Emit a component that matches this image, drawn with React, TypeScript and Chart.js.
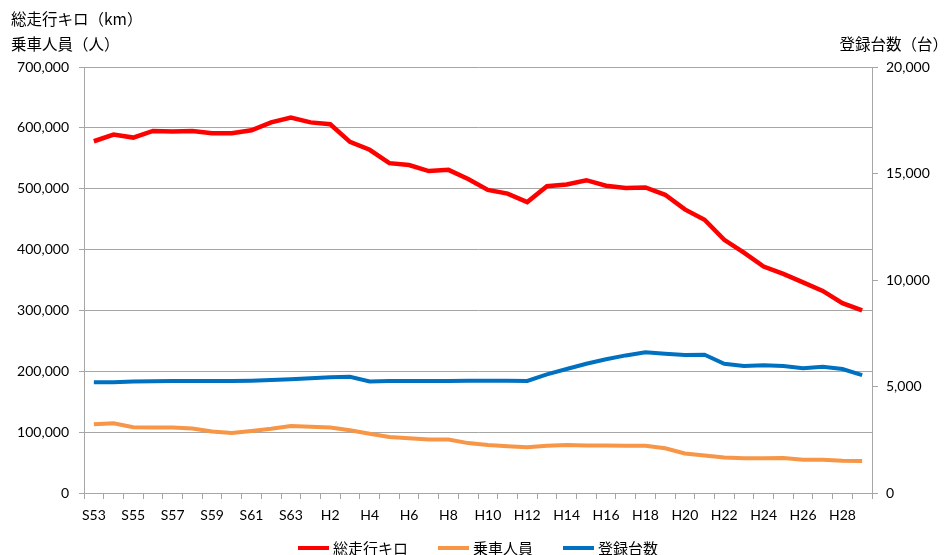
import React, { useEffect, useRef } from "react";
import { Chart, registerables } from "chart.js";

Chart.register(...registerables);

const categories: string[] = [
  "S53", "S54", "S55", "S56", "S57", "S58", "S59", "S60", "S61", "S62", "S63",
  "H1", "H2", "H3", "H4", "H5", "H6", "H7", "H8", "H9", "H10",
  "H11", "H12", "H13", "H14", "H15", "H16", "H17", "H18", "H19", "H20",
  "H21", "H22", "H23", "H24", "H25", "H26", "H27", "H28", "H29",
];

const totalKm: number[] = [
  578000, 589000, 584000, 595000, 594000, 595000, 591000, 591000, 596000, 609000,
  617000, 609000, 606000, 577000, 564000, 542000, 539000, 529000, 531000, 516000,
  498000, 492000, 478000, 504000, 507000, 514000, 505000, 501000, 502000, 490000,
  466000, 449000, 416000, 395000, 372000, 360000, 346000, 332000, 312000, 300000,
];

const passengers: number[] = [
  113000, 114500, 108000, 107500, 107500, 106000, 101000, 98500, 102000, 105500,
  110000, 109000, 107500, 103000, 97500, 92000, 90000, 88000, 88000, 82000,
  79000, 77000, 75000, 77500, 79000, 78000, 78000, 77500, 77500, 73500,
  65000, 61500, 58500, 57000, 57000, 57500, 54500, 54500, 53000, 52500,
];

const registered: number[] = [
  5200, 5200, 5230, 5250, 5260, 5260, 5260, 5260, 5270, 5300,
  5340, 5390, 5430, 5460, 5240, 5260, 5260, 5260, 5260, 5270,
  5270, 5270, 5260, 5570, 5820, 6070, 6280, 6460, 6610, 6540,
  6480, 6490, 6070, 5960, 6000, 5960, 5860, 5930, 5820, 5530,
];

const seriesNames: string[] = ["総走行キロ", "乗車人員", "登録台数"];
const seriesColors: string[] = ["#ff0000", "#f79646", "#0070c0"];
const leftTitles: string[] = ["総走行キロ（km）", "乗車人員（人）"];
const rightTitle = "登録台数（台）";

const CJK = '"Noto Sans CJK JP", "Noto Sans", sans-serif';
const NUM = 'Lato, "Open Sans", sans-serif';
const GRID = "#a6a6a6";

const annotatePlugin = {
  id: "annotate",
  afterDraw(chart: any) {
    const ctx = chart.ctx as CanvasRenderingContext2D;
    ctx.save();
    ctx.fillStyle = "#000";
    ctx.font = `15.5px ${CJK}`;
    ctx.textBaseline = "middle";
    ctx.textAlign = "left";
    ctx.fillText(leftTitles[0], 11, 19);
    ctx.fillText(leftTitles[1], 11, 44);
    ctx.textAlign = "right";
    ctx.fillText(rightTitle, 948, 44);

    // legend
    ctx.font = `15px ${CJK}`;
    ctx.textAlign = "left";
    const lineW = 31;
    const gap = 4;
    const itemGap = 30;
    const widths = seriesNames.map((n) => lineW + gap + ctx.measureText(n).width);
    const total = widths.reduce((a, b) => a + b, 0) + itemGap * (seriesNames.length - 1);
    let x = 478 - total / 2;
    const y = 548;
    seriesNames.forEach((n, i) => {
      ctx.strokeStyle = seriesColors[i];
      ctx.lineWidth = 4;
      ctx.beginPath();
      ctx.moveTo(x, y);
      ctx.lineTo(x + lineW, y);
      ctx.stroke();
      ctx.fillStyle = "#000";
      ctx.fillText(n, x + lineW + gap, y);
      x += widths[i] + itemGap;
    });
    ctx.restore();
  },
};

export default function App() {
  const ref = useRef<HTMLCanvasElement | null>(null);

  useEffect(() => {
    if (!ref.current) return;
    const chart = new Chart(ref.current, {
      type: "line",
      data: {
        labels: categories,
        datasets: [
          {
            label: seriesNames[0],
            data: totalKm,
            borderColor: seriesColors[0],
            backgroundColor: seriesColors[0],
            borderWidth: 4.5,
            pointRadius: 0,
            yAxisID: "y",
          },
          {
            label: seriesNames[1],
            data: passengers,
            borderColor: seriesColors[1],
            backgroundColor: seriesColors[1],
            borderWidth: 4,
            pointRadius: 0,
            yAxisID: "y",
          },
          {
            label: seriesNames[2],
            data: registered,
            borderColor: seriesColors[2],
            backgroundColor: seriesColors[2],
            borderWidth: 4,
            pointRadius: 0,
            yAxisID: "y1",
          },
        ],
      },
      options: {
        responsive: false,
        animation: false,
        layout: { padding: { top: 67, left: 0, right: 0, bottom: 0 } },
        plugins: {
          legend: { display: false },
          tooltip: { enabled: false },
        },
        scales: {
          x: {
            offset: true,
            grid: {
              offset: true,
              drawOnChartArea: false,
              tickLength: 6,
              color: GRID,
            },
            border: { color: GRID },
            ticks: {
              autoSkip: false,
              maxRotation: 0,
              minRotation: 0,
              padding: 8,
              color: "#000",
              font: { family: '"Liberation Sans Narrow", ' + NUM, size: 14 },
              callback: (_v: any, i: number) => (i % 2 === 0 ? categories[i] : ""),
            },
            afterFit: (s: any) => {
              s.height = 62;
            },
          },
          y: {
            position: "left",
            min: 0,
            max: 700000,
            grid: { color: GRID, tickLength: 5 },
            border: { color: GRID },
            ticks: {
              stepSize: 100000,
              padding: 10,
              color: "#000",
              font: { family: NUM, size: 14 },
              callback: (v: any) => Number(v).toLocaleString("en-US"),
            },
            afterFit: (s: any) => {
              s.width = 84;
            },
          },
          y1: {
            position: "right",
            min: 0,
            max: 20000,
            grid: { drawOnChartArea: false, color: GRID, tickLength: 6 },
            border: { color: GRID },
            ticks: {
              stepSize: 5000,
              padding: 8,
              color: "#000",
              font: { family: NUM, size: 14 },
              callback: (v: any) => Number(v).toLocaleString("en-US"),
            },
            afterFit: (s: any) => {
              s.width = 72;
            },
          },
        },
      },
      plugins: [annotatePlugin],
    });
    return () => chart.destroy();
  }, []);

  return (
    <div style={{ position: "absolute", left: 0, top: 0, width: 944, height: 555, background: "#fff" }}>
      <canvas ref={ref} width={944} height={555} />
    </div>
  );
}
